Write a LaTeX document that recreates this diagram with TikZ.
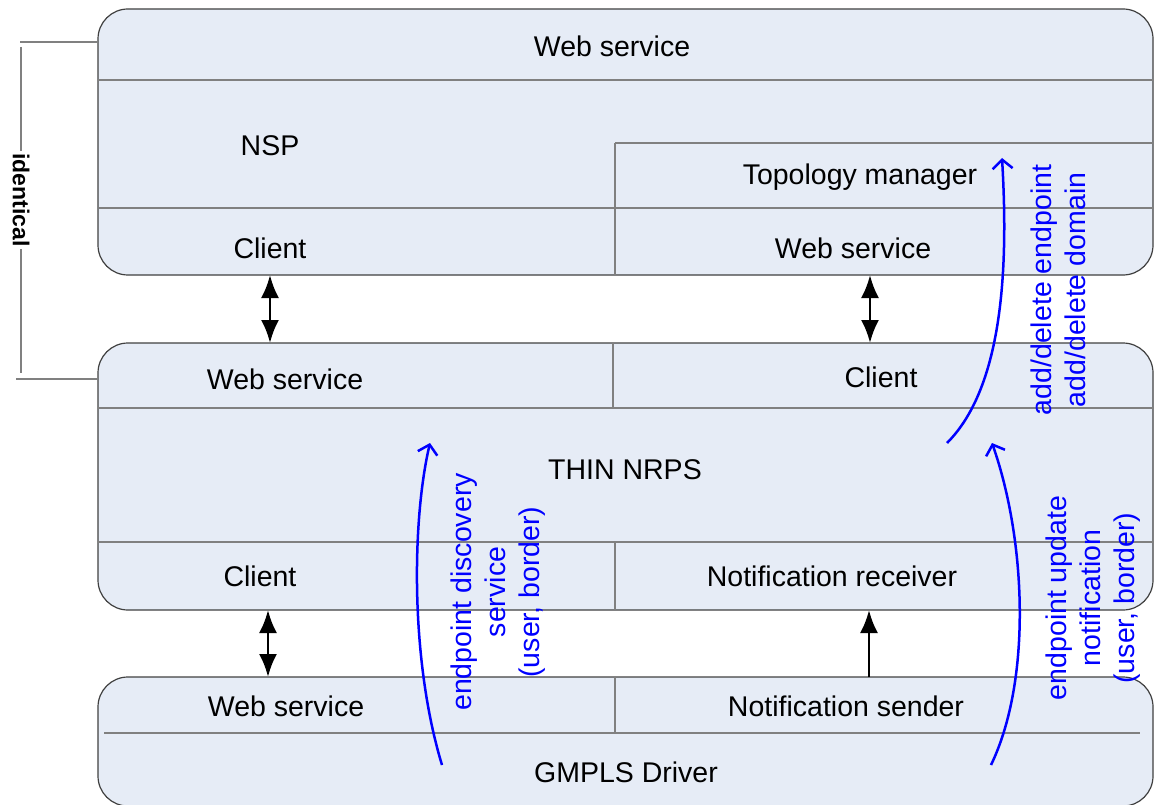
\documentclass[tikz,border=0pt]{standalone}
\usepackage{fontspec}
\setmainfont{Liberation Sans}
\usetikzlibrary{arrows.meta}
\definecolor{boxfill}{RGB}{230,236,246}
\definecolor{boxline}{RGB}{64,64,64}
\definecolor{divline}{RGB}{128,128,128}
\begin{document}
\begin{tikzpicture}[x=1pt,y=-1pt,
 box/.style={draw=boxline,line width=1.2pt,fill=boxfill,rounded corners=30pt},
 div/.style={draw=divline,line width=1.6pt},
 lbl/.style={font=\fontsize{28.5}{34}\selectfont,inner sep=0pt},
 blbl/.style={font=\fontsize{28.5}{34}\selectfont,text=blue,align=center,rotate=90,inner sep=0pt},
 idl/.style={font=\fontsize{23}{27}\selectfont\bfseries,rotate=-90,inner sep=2pt},
 dbl/.style={line width=2.8pt,{Latex[length=23pt,width=18pt]}-{Latex[length=23pt,width=18pt]}},
 sgl/.style={line width=2.8pt,-{Latex[length=23pt,width=18pt]}},
 flow/.style={blue,line width=2.5pt,-{Straight Barb[length=9pt,width=20pt]}},
 brk/.style={draw=divline,line width=1.5pt}]
\useasboundingbox (0,0) rectangle (1154,805);
% boxes
\draw[box] (98,9) rectangle (1153,275);
\draw[box] (98,343) rectangle (1153,610);
\draw[box] (98,677) rectangle (1153,806);
% dividers top
\draw[div] (98,80) -- (1153,80);
\draw[div] (615,143) -- (1153,143);
\draw[div] (99,208) -- (1153,208);
\draw[div] (615,143) -- (615,275);
% dividers middle
\draw[div] (98,408) -- (1153,408);
\draw[div] (613,343) -- (613,408);
\draw[div] (98,542) -- (1153,542);
\draw[div] (615,542) -- (615,610);
% dividers bottom
\draw[div] (615,677) -- (615,733);
\draw[div] (104,733) -- (1140,733);
% labels
\node[lbl] (ws1) at (612,46) {Web service};
\node[lbl] (nsp) at (270,146) {NSP};
\node[lbl] (topo) at (860,177) {Topology manager};
\node[lbl] (cl1) at (270,248) {Client};
\node[lbl] (ws2) at (853,248) {Web service};
\node[lbl] (ws3) at (285,379) {Web service};
\node[lbl] (cl2) at (881,377) {Client};
\node[lbl] (thin) at (625,470) {THIN NRPS};
\node[lbl] (cl3) at (260,576) {Client};
\node[lbl] (nrec) at (832,576) {Notification receiver};
\node[lbl] (ws4) at (286,706) {Web service};
\node[lbl] (nsend) at (846,706) {Notification sender};
\node[lbl] (gmpls) at (626,772) {GMPLS Driver};
% black connectors
\coordinate (a1) at (270,275); \coordinate (a2) at (270,343);
\coordinate (b1) at (870,275); \coordinate (b2) at (870,343);
\coordinate (c1) at (268,610); \coordinate (c2) at (268,677);
\coordinate (d1) at (869,677); \coordinate (d2) at (869,610);
\draw[dbl] (a1) -- (a2);
\draw[dbl] (b1) -- (b2);
\draw[dbl] (c1) -- (c2);
\draw[sgl] (d1) -- (d2);
% identical bracket
\node[idl] (ident) at (21,200) {identical};
\draw[brk] (98,42) -- (20,42);
\draw[brk] (21,47) -- (ident.west);
\draw[brk] (ident.east) -- (21,373);
\draw[brk] (16,379) -- (98,379);
% blue flows
\coordinate (p1) at (442,765); \coordinate (p2) at (430,443);
\coordinate (q1) at (991,765); \coordinate (q2) at (992,443);
\coordinate (r1) at (947,443); \coordinate (r2) at (1002,158);
\draw[flow] (p1) .. controls (410,660) and (412,520) .. (p2);
\draw[flow] (q1) .. controls (1032,680) and (1026,540) .. (q2);
\draw[flow] (r1) .. controls (1005,385) and (1008,260) .. (r2);
\node[blbl] (disc) at (498,592) {endpoint discovery\\service\\(user, border)};
\node[blbl] (upd) at (1093,598) {endpoint update\\notification\\(user, border)};
\node[blbl] (add) at (1058,290) {add/delete endpoint\\add/delete domain};
\end{tikzpicture}
\end{document}
